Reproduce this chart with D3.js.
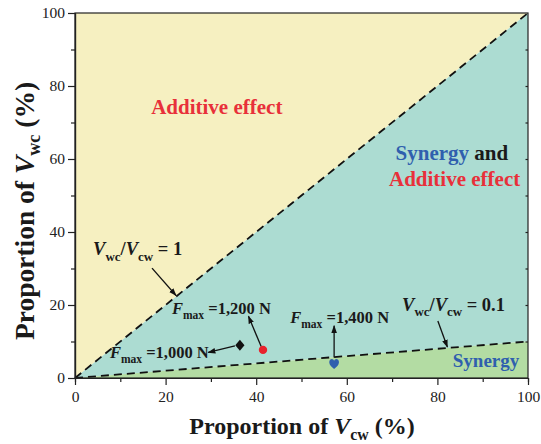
<!DOCTYPE html>
<html>
<head>
<meta charset="utf-8">
<script src="https://cdn.jsdelivr.net/npm/d3@7"></script>
<style>
  html, body { margin: 0; padding: 0; background: #ffffff; }
  svg text { font-family: "Liberation Serif", "Times New Roman", serif; }
</style>
</head>
<body>
<svg id="chart" width="541" height="444"></svg>
<script>
// Axis ticks (percent)
const majorTicks = [0, 20, 40, 60, 80, 100];
const minorTicks = [10, 30, 50, 70, 90];
const rightTicks = [10, 20, 30, 40, 50, 60, 70, 80, 90];

// Boundary lines V_wc / V_cw
const boundaryRatios = [1, 0.1];

// Measured mixtures: V_cw (%), V_wc (%), peak force
const pointCw = [36.4, 41.5, 57.2];
const pointWc = [9.0, 7.7, 3.8];
const forceLabels = ["1,000", "1,200", "1,400"];

const svg = d3.select("#chart");
const x = d3.scaleLinear().domain([0, 100]).range([75, 528]);
const y = d3.scaleLinear().domain([0, 100]).range([378, 13]);

const line = d3.line().x(d => x(d[0])).y(d => y(d[1]));

// Shaded regions
const regions = [
  { pts: [[0, 0], [0, 100], [100, 100]], fill: "#f6f0c1" },
  { pts: [[0, 0], [100, 100 * boundaryRatios[0]], [100, 100 * boundaryRatios[1]]], fill: "#acdcd2" },
  { pts: [[0, 0], [100, 100 * boundaryRatios[1]], [100, 0]], fill: "#b3dca3" }
];
svg.append("g").selectAll("path").data(regions).join("path")
  .attr("d", d => line(d.pts) + "Z")
  .attr("fill", d => d.fill);

// Dashed boundaries
svg.append("g").selectAll("path").data(boundaryRatios).join("path")
  .attr("d", r => line([[0, 0], [100, 100 * r]]))
  .attr("fill", "none").attr("stroke", "#111")
  .attr("stroke-width", 1.8).attr("stroke-dasharray", "8,5");

// Frame
svg.append("rect")
  .attr("x", x(0)).attr("y", y(100))
  .attr("width", x(100) - x(0)).attr("height", y(0) - y(100))
  .attr("fill", "none").attr("stroke", "#222").attr("stroke-width", 1.2);

// Bottom axis
const gx = svg.append("g").attr("transform", `translate(0,${y(0)})`);
gx.call(d3.axisBottom(x).tickValues(majorTicks).tickSize(7).tickSizeOuter(0));
gx.append("g").call(d3.axisBottom(x).tickValues(minorTicks).tickSize(4).tickFormat(""));
// Left axis
const gy = svg.append("g").attr("transform", `translate(${x(0)},0)`);
gy.call(d3.axisLeft(y).tickValues(majorTicks).tickSize(7).tickSizeOuter(0));
gy.append("g").call(d3.axisLeft(y).tickValues(minorTicks).tickSize(4).tickFormat(""));
// Right axis, inner ticks
const gr = svg.append("g").attr("transform", `translate(${x(100)},0)`);
gr.call(d3.axisLeft(y).tickValues(rightTicks).tickSize(2.5).tickSizeOuter(0).tickFormat(""));

svg.selectAll(".domain").attr("stroke", "#222").attr("stroke-width", 1.2);
svg.selectAll(".tick line").attr("stroke", "#222").attr("stroke-width", 1.2);
svg.selectAll(".tick text")
  .attr("font-family", "Liberation Serif").attr("font-size", 15.5).attr("fill", "#222");
gx.selectAll(".tick text").attr("dy", "0.9em");
gr.select(".domain").remove();

// Axis titles
function richTitle(t, size, parts) {
  parts.forEach(p => {
    const s = t.append("tspan").text(p.text);
    if (p.italic) s.attr("font-style", "italic");
    if (p.sub) s.attr("font-size", size * 0.66).attr("dy", size * 0.24);
    if (p.after) s.attr("dy", -size * 0.24);
  });
}
const xt = svg.append("text")
  .attr("x", 302).attr("y", 434)
  .attr("text-anchor", "middle").attr("font-weight", "bold").attr("font-size", 24).attr("fill", "#1a1a1a");
richTitle(xt, 24, [{ text: "Proportion of " }, { text: "V", italic: true }, { text: "cw", sub: true }, { text: " (%)", after: true }]);

const yt = svg.append("text")
  .attr("transform", `translate(33.5,211) rotate(-90)`)
  .attr("text-anchor", "middle").attr("font-weight", "bold").attr("font-size", 27.5).attr("fill", "#1a1a1a");
richTitle(yt, 27.5, [{ text: "Proportion of " }, { text: "V", italic: true }, { text: "wc", sub: true }, { text: " (%)", after: true }]);

// Arrowhead
svg.append("defs").append("marker")
  .attr("id", "head").attr("viewBox", "0 0 10 10")
  .attr("refX", 9).attr("refY", 5)
  .attr("markerWidth", 8).attr("markerHeight", 8)
  .attr("markerUnits", "userSpaceOnUse")
  .attr("orient", "auto")
  .append("path").attr("d", "M0,1.5 L10,5 L0,8.5 Z").attr("fill", "#111");

const arrows = [
  [[17.0, 30.1], [22.3, 22.6]],
  [[80.1, 15.6], [82.2, 8.5]],
  [[35.3, 8.8], [29.4, 7.0]],
  [[41.1, 8.6], [38.3, 16.9]],
  [[57.2, 5.6], [57.2, 14.3]]
];
svg.append("g").selectAll("path").data(arrows).join("path")
  .attr("d", d => line(d))
  .attr("stroke", "#111").attr("stroke-width", 1.3).attr("fill", "none")
  .attr("marker-end", "url(#head)");

// Markers
svg.append("path")
  .attr("transform", `translate(${x(pointCw[0])},${y(pointWc[0])})`)
  .attr("d", "M0,-5.5 L4.6,0 L0,5.5 L-4.6,0 Z").attr("fill", "#111");
svg.append("circle")
  .attr("cx", x(pointCw[1])).attr("cy", y(pointWc[1])).attr("r", 4.2)
  .attr("fill", "#e8222c");
const heart = "M0,6 C-3,3.5 -6.5,1 -6.5,-2.3 C-6.5,-5 -4.5,-6.3 -3,-6.3 C-1.5,-6.3 -0.4,-5.2 0,-4 C0.4,-5.2 1.5,-6.3 3,-6.3 C4.5,-6.3 6.5,-5 6.5,-2.3 C6.5,1 3,3.5 0,6 Z";
svg.append("path")
  .attr("transform", `translate(${x(pointCw[2])},${y(pointWc[2])}) scale(0.75,0.82)`)
  .attr("d", heart).attr("fill", "#2f5fae");

// Labels
function label(cx, cy, anchor, size, parts) {
  const t = svg.append("text")
    .attr("x", x(cx)).attr("y", y(cy)).attr("text-anchor", anchor)
    .attr("font-weight", "bold").attr("font-size", size);
  let shift = 0;
  parts.forEach(p => {
    const s = t.append("tspan").text(p.text).attr("fill", p.color || "#1a1a1a");
    if (p.italic) s.attr("font-style", "italic");
    if (p.sub) { s.attr("font-size", size * 0.7).attr("dy", size * 0.3 - shift); shift = size * 0.3; }
    else if (shift) { s.attr("dy", -shift); shift = 0; }
  });
  return t;
}
const red = "#e8303a", blue = "#2f5fae";
label(31.3, 72.3, "middle", 21, [{ text: "Additive effect", color: red }]);
label(83.2, 59.6, "middle", 21, [{ text: "Synergy", color: blue }, { text: " and" }]);
label(83.8, 52.5, "middle", 21, [{ text: "Additive effect", color: red }]);
label(83.4, 3.0, "start", 19, [{ text: "Synergy", color: blue }]);

label(4.0, 33.7, "start", 18.5, [{ text: "V", italic: true }, { text: "wc", sub: true }, { text: "/" }, { text: "V", italic: true }, { text: "cw", sub: true }, { text: " = 1" }]);
label(72.2, 18.4, "start", 18.5, [{ text: "V", italic: true }, { text: "wc", sub: true }, { text: "/" }, { text: "V", italic: true }, { text: "cw", sub: true }, { text: " = 0.1" }]);

const labelPos = [[7.7, 5.5], [21.4, 17.5], [47.5, 15.1]];
forceLabels.forEach((f, i) => {
  label(labelPos[i][0], labelPos[i][1], "start", 16.5,
    [{ text: "F", italic: true }, { text: "max", sub: true }, { text: " =" + f + " N" }]);
});
</script>
</body>
</html>
